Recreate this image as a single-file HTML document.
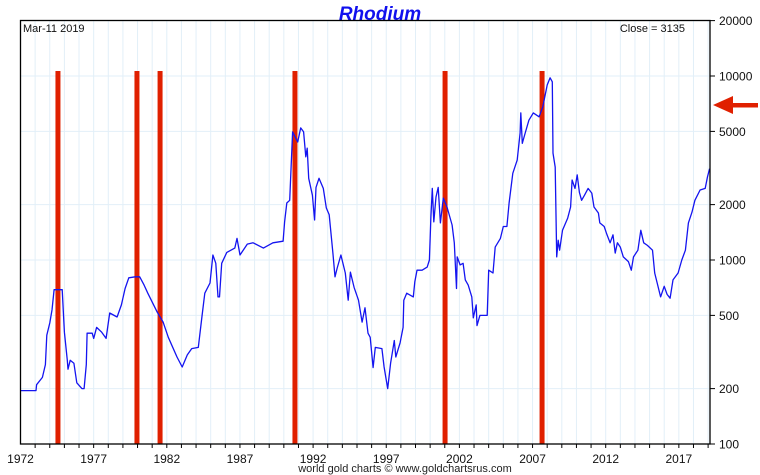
<!DOCTYPE html>
<html><head><meta charset="utf-8">
<style>
html,body{margin:0;padding:0;background:#fff;}
svg{display:block;font-family:"Liberation Sans",Arial,sans-serif;}
</style></head>
<body>
<svg id="chart" width="760" height="475" viewBox="0 0 760 475" xmlns="http://www.w3.org/2000/svg">
<text x="380" y="20" text-anchor="middle" font-size="19" font-weight="bold" font-style="italic" fill="#1010ee">Rhodium</text>
<g id="grid"></g>
<g id="bars"></g>
<g id="series"></g>
<g id="axes"></g>
<text x="23" y="32" font-size="11" fill="#111">Mar-11  2019</text>
<text x="685" y="32" text-anchor="end" font-size="11" fill="#111">Close = 3135</text>
<text x="405" y="472" text-anchor="middle" font-size="11" fill="#222">world gold charts © www.goldchartsrus.com</text>
<g>
<polygon points="713,105 733,96 733,114" fill="#e02000"/>
<rect x="731" y="103" width="27" height="4.5" fill="#e02000"/>
</g>
</svg>
<script>
const years=[1972.0,1973.06,1973.1,1973.5,1973.7,1973.8,1974.0,1974.15,1974.3,1974.85,1975.0,1975.2,1975.25,1975.4,1975.65,1975.85,1976.2,1976.35,1976.5,1976.55,1976.9,1977.0,1977.2,1977.55,1977.85,1978.1,1978.6,1978.9,1979.15,1979.4,1979.85,1980.15,1980.45,1980.7,1981.35,1981.75,1982.1,1982.7,1983.05,1983.4,1983.7,1984.15,1984.4,1984.6,1984.95,1985.15,1985.35,1985.5,1985.6,1985.75,1986.1,1986.65,1986.8,1987.0,1987.5,1987.9,1988.6,1989.25,1989.95,1990.05,1990.2,1990.4,1990.6,1990.95,1991.15,1991.35,1991.5,1991.6,1991.7,1991.95,1992.1,1992.2,1992.4,1992.7,1992.9,1993.1,1993.35,1993.5,1993.65,1993.9,1994.2,1994.4,1994.55,1994.8,1995.1,1995.35,1995.55,1995.75,1995.9,1996.1,1996.25,1996.7,1996.85,1997.1,1997.3,1997.55,1997.65,1997.95,1998.15,1998.2,1998.4,1998.85,1998.95,1999.1,1999.45,1999.8,1999.95,2000.05,2000.15,2000.25,2000.4,2000.55,2000.7,2000.9,2001.15,2001.5,2001.65,2001.8,2001.85,2002.05,2002.25,2002.4,2002.6,2002.85,2002.95,2003.15,2003.2,2003.4,2003.9,2004.0,2004.3,2004.45,2004.8,2005.0,2005.25,2005.4,2005.65,2005.95,2006.15,2006.2,2006.3,2006.5,2006.75,2007.05,2007.45,2007.7,2008.0,2008.2,2008.35,2008.4,2008.55,2008.65,2008.75,2008.85,2009.05,2009.4,2009.6,2009.7,2009.9,2010.05,2010.2,2010.35,2010.55,2010.8,2011.05,2011.2,2011.5,2011.6,2011.9,2012.05,2012.3,2012.5,2012.65,2012.8,2013.0,2013.2,2013.55,2013.75,2013.9,2014.2,2014.4,2014.6,2014.85,2015.2,2015.35,2015.5,2015.75,2016.0,2016.2,2016.4,2016.6,2016.95,2017.2,2017.45,2017.65,2017.9,2018.1,2018.45,2018.8,2018.95,2019.1];
const prices=[195,195,210,230,270,390,455,535,690,690,405,285,255,285,275,215,200,200,270,400,400,375,430,405,375,515,490,570,700,800,810,810,730,660,520,460,380,297,262,305,330,335,490,660,750,1065,960,630,630,960,1100,1160,1310,1065,1220,1240,1160,1240,1265,1610,2040,2110,4970,4380,5220,4970,3640,4050,2780,2250,1650,2480,2780,2450,1920,1760,1090,810,905,1065,850,605,860,710,605,460,550,400,380,260,335,330,262,200,275,365,297,355,430,605,660,630,760,880,880,915,1000,1720,2450,1610,2200,2480,1590,2170,1940,1550,1240,700,1040,940,960,780,730,630,485,570,440,500,500,880,850,1175,1310,1520,1520,2040,2960,3490,4900,6300,4310,4900,5750,6300,6000,6800,8940,9780,9300,3810,3200,1040,1280,1130,1450,1690,1940,2720,2450,2900,2330,2110,2250,2450,2310,1940,1800,1590,1520,1400,1240,1370,1090,1240,1175,1040,980,880,1040,1130,1450,1240,1200,1130,850,760,630,720,650,620,780,850,1000,1130,1590,1820,2110,2400,2450,2820,3135];
const eventYears=[1974.56,1979.96,1981.54,1990.76,2001.02,2007.65];
const yTicks=[100,200,500,1000,2000,5000,10000,20000];
const xTickLabels=[1972,1977,1982,1987,1992,1997,2002,2007,2012,2017];

const NS='http://www.w3.org/2000/svg';
const L=20.5,R=710,T=20.5,B=444;
const x0=1972,pxPerYear=14.63;
const X=y=>L+(y-x0)*pxPerYear;
const Y=v=>B-(Math.log10(v)-2)*184;
function mk(tag,attrs,parent){const e=document.createElementNS(NS,tag);for(const k in attrs)e.setAttribute(k,attrs[k]);parent.appendChild(e);return e;}
const grid=document.getElementById('grid'),bars=document.getElementById('bars'),series=document.getElementById('series'),axes=document.getElementById('axes');

for(let yr=1973;yr<=2019;yr++){
  const g=mk('line',{x1:X(yr),x2:X(yr),y1:T,y2:B,stroke:'#e2eff8','stroke-width':1},grid);
  
  
  const t=mk('line',{x1:X(yr),x2:X(yr),y1:B,y2:B+4,stroke:'#000','stroke-width':1},axes);
  
  
}
yTicks.forEach(v=>{
  const g=mk('line',{x1:L,x2:R,y1:Y(v),y2:Y(v),stroke:'#e2eff8','stroke-width':1},grid);
  
  
  const t=mk('line',{x1:R,x2:R+5,y1:Y(v),y2:Y(v),stroke:'#000','stroke-width':1},axes);
  
  
  const lb=mk('text',{x:R+9,y:Y(v)+4.5,'font-size':12,fill:'#111'},axes);
  lb.textContent=v;
  
  
});
xTickLabels.forEach(yr=>{
  const lb=mk('text',{x:X(yr),y:463,'text-anchor':'middle','font-size':12,fill:'#111'},axes);
  lb.textContent=yr;
  
  
});
eventYears.forEach(yr=>{
  const r=mk('rect',{x:X(yr)-2.5,y:71,width:5,height:B-71,fill:'#e02000'},bars);
  
  
});
let d='';
years.forEach((yr,i)=>{d+=(i?'L':'M')+X(yr).toFixed(1)+','+Y(prices[i]).toFixed(1);});
const p=mk('path',{d:d,fill:'none',stroke:'#1414f0','stroke-width':1.3,'stroke-linejoin':'round'},series);


const frame=mk('rect',{x:L,y:T,width:R-L,height:B-T,fill:'none',stroke:'#000','stroke-width':1.3},axes);


</script>
</body></html>
